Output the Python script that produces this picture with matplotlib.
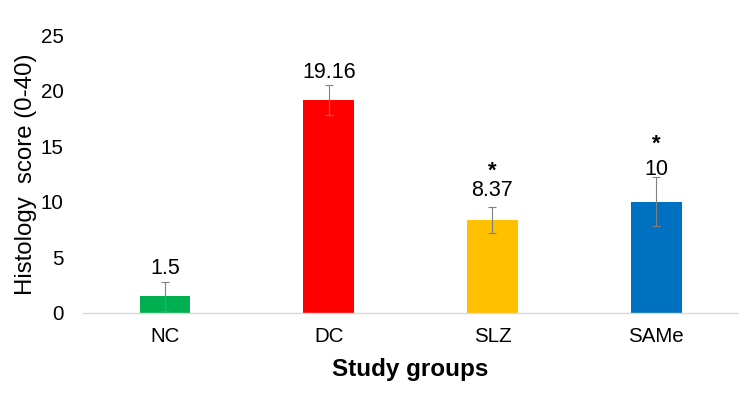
import numpy as np
import matplotlib.pyplot as plt

# data
groups = ['NC', 'DC', 'SLZ', 'SAMe']
scores = [1.5, 19.16, 8.37, 10]
errors = [1.3, 1.35, 1.17, 2.2]
value_labels = ['1.5', '19.16', '8.37', '10']
stars = ['', '', '*', '*']
bar_colors = ['#00B050', '#FF0000', '#FFC000', '#0070C0']

plt.rcParams['font.family'] = ['Liberation Sans', 'DejaVu Sans']

fig = plt.figure(figsize=(7.5, 3.94), dpi=100)
ax = fig.add_axes([0.111, 0.2056, 0.873, 0.705])

x = np.arange(len(groups))
ax.bar(x, scores, width=0.31, color=bar_colors, zorder=2)
ax.errorbar(x, scores, yerr=errors, fmt='none', ecolor='#808080',
            elinewidth=0.8, capsize=3, capthick=0.8, zorder=3)

label_offsets = [28, 28, 29, 32]   # px above bar top
star_offsets = [0, 0, 20, 26]      # px above value label
for i in range(len(groups)):
    ax.annotate(value_labels[i], (x[i], scores[i]), xytext=(0, label_offsets[i] * 0.72),
                textcoords='offset points', ha='center', va='center', fontsize=15.5)
    if stars[i]:
        ax.annotate(stars[i], (x[i], scores[i]),
                    xytext=(0, (label_offsets[i] + star_offsets[i]) * 0.72),
                    textcoords='offset points', ha='center', va='center',
                    fontsize=16, fontweight='bold')

ax.set_xlim(-0.5, len(groups) - 0.5)
ax.set_ylim(0, 25)
ax.set_yticks([0, 5, 10, 15, 20, 25])
ax.set_xticks(x)
ax.set_xticklabels(groups)
ax.tick_params(axis='both', length=0, labelsize=14.8, colors='#000000')
ax.tick_params(axis='y', pad=14)
ax.tick_params(axis='x', pad=10)

for s in ['top', 'right', 'left']:
    ax.spines[s].set_visible(False)
ax.spines['bottom'].set_color('#d9d9d9')
ax.spines['bottom'].set_linewidth(1)

ax.set_ylabel('Histology  score (0-40)', fontsize=17.3, labelpad=3)
ax.set_xlabel('Study groups', fontsize=17.5, fontweight='bold', labelpad=9)

fig.savefig('out.png', dpi=100)
